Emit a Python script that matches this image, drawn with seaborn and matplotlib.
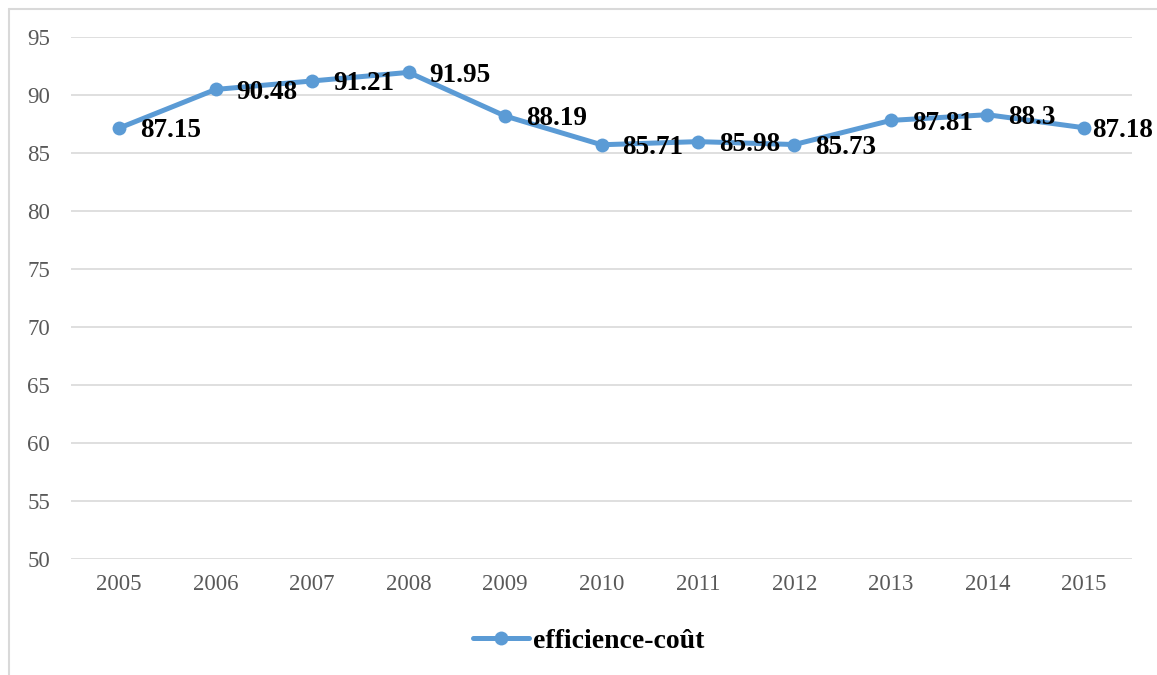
import matplotlib
matplotlib.use("Agg")
import matplotlib.pyplot as plt
from matplotlib.lines import Line2D
import pandas as pd
import seaborn as sns

years = [2005, 2006, 2007, 2008, 2009, 2010, 2011, 2012, 2013, 2014, 2015]
values = [87.15, 90.48, 91.21, 91.95, 88.19, 85.71, 85.98, 85.73, 87.81, 88.3, 87.18]
value_labels = ["87.15", "90.48", "91.21", "91.95", "88.19", "85.71", "85.98", "85.73", "87.81", "88.3", "87.18"]
y_ticks = [50, 55, 60, 65, 70, 75, 80, 85, 90, 95]
series_name = "efficience-coût"

sns.set_theme(style="white")
plt.rcParams['font.family'] = ['Liberation Serif', 'DejaVu Serif']

W, H = 1157, 675
fig = plt.figure(figsize=(W / 100, H / 100), dpi=100)
ax = fig.add_axes([71 / W, 1 - 559 / H, (1132 - 71) / W, (559 - 37) / H])

df = pd.DataFrame({"year": years, "value": values})
blue = "#5B9BD5"
sns.lineplot(data=df, x="year", y="value", ax=ax, color=blue, linewidth=3.6,
             marker="o", markersize=10, markeredgewidth=0, label=series_name,
             legend=False)

# data labels to the right of each point (last one squeezed to fit the frame)
for i, (x, y, t) in enumerate(zip(years, values, value_labels)):
    dx = 6 if i == len(years) - 1 else 15
    ax.annotate(t, (x, y), xytext=(dx, -2), textcoords="offset points",
                ha="left", va="center", fontsize=19.5, fontweight="bold",
                color="black", annotation_clip=False)

ax.set_xlim(years[0] - 0.5, years[-1] + 0.5)
ax.set_ylim(50, 95)
ax.set_yticks(y_ticks)
ax.set_xticks(years)
ax.set_xticklabels([str(y) for y in years])
ax.yaxis.grid(True, color="#D9D9D9", linewidth=1.2)
ax.set_axisbelow(True)
for s in ax.spines.values():
    s.set_visible(False)
ax.tick_params(axis="both", length=0, labelsize=16.5, labelcolor="#595959")
ax.tick_params(axis="x", pad=11)
ax.tick_params(axis="y", pad=15)
ax.set_xlabel("")
ax.set_ylabel("")

handle = Line2D([0], [0], color=blue, linewidth=3.6, marker="o", markersize=10,
                markeredgewidth=0)
leg = fig.legend([handle], [series_name], loc="center", bbox_to_anchor=(589 / W, 1 - 641 / H),
                 frameon=False, prop={"size": 20, "weight": "bold"},
                 handlelength=2.0, handletextpad=0.15, labelcolor="black")

# outer chart frame (cut off at right and bottom)
fig.add_artist(Line2D([9 / W, 9 / W], [0, 1 - 9 / H], transform=fig.transFigure,
                      color="#D9D9D9", linewidth=1.5))
fig.add_artist(Line2D([9 / W, 1], [1 - 9 / H, 1 - 9 / H], transform=fig.transFigure,
                      color="#D9D9D9", linewidth=1.5))

fig.savefig("out.png", dpi=100, facecolor="white")
